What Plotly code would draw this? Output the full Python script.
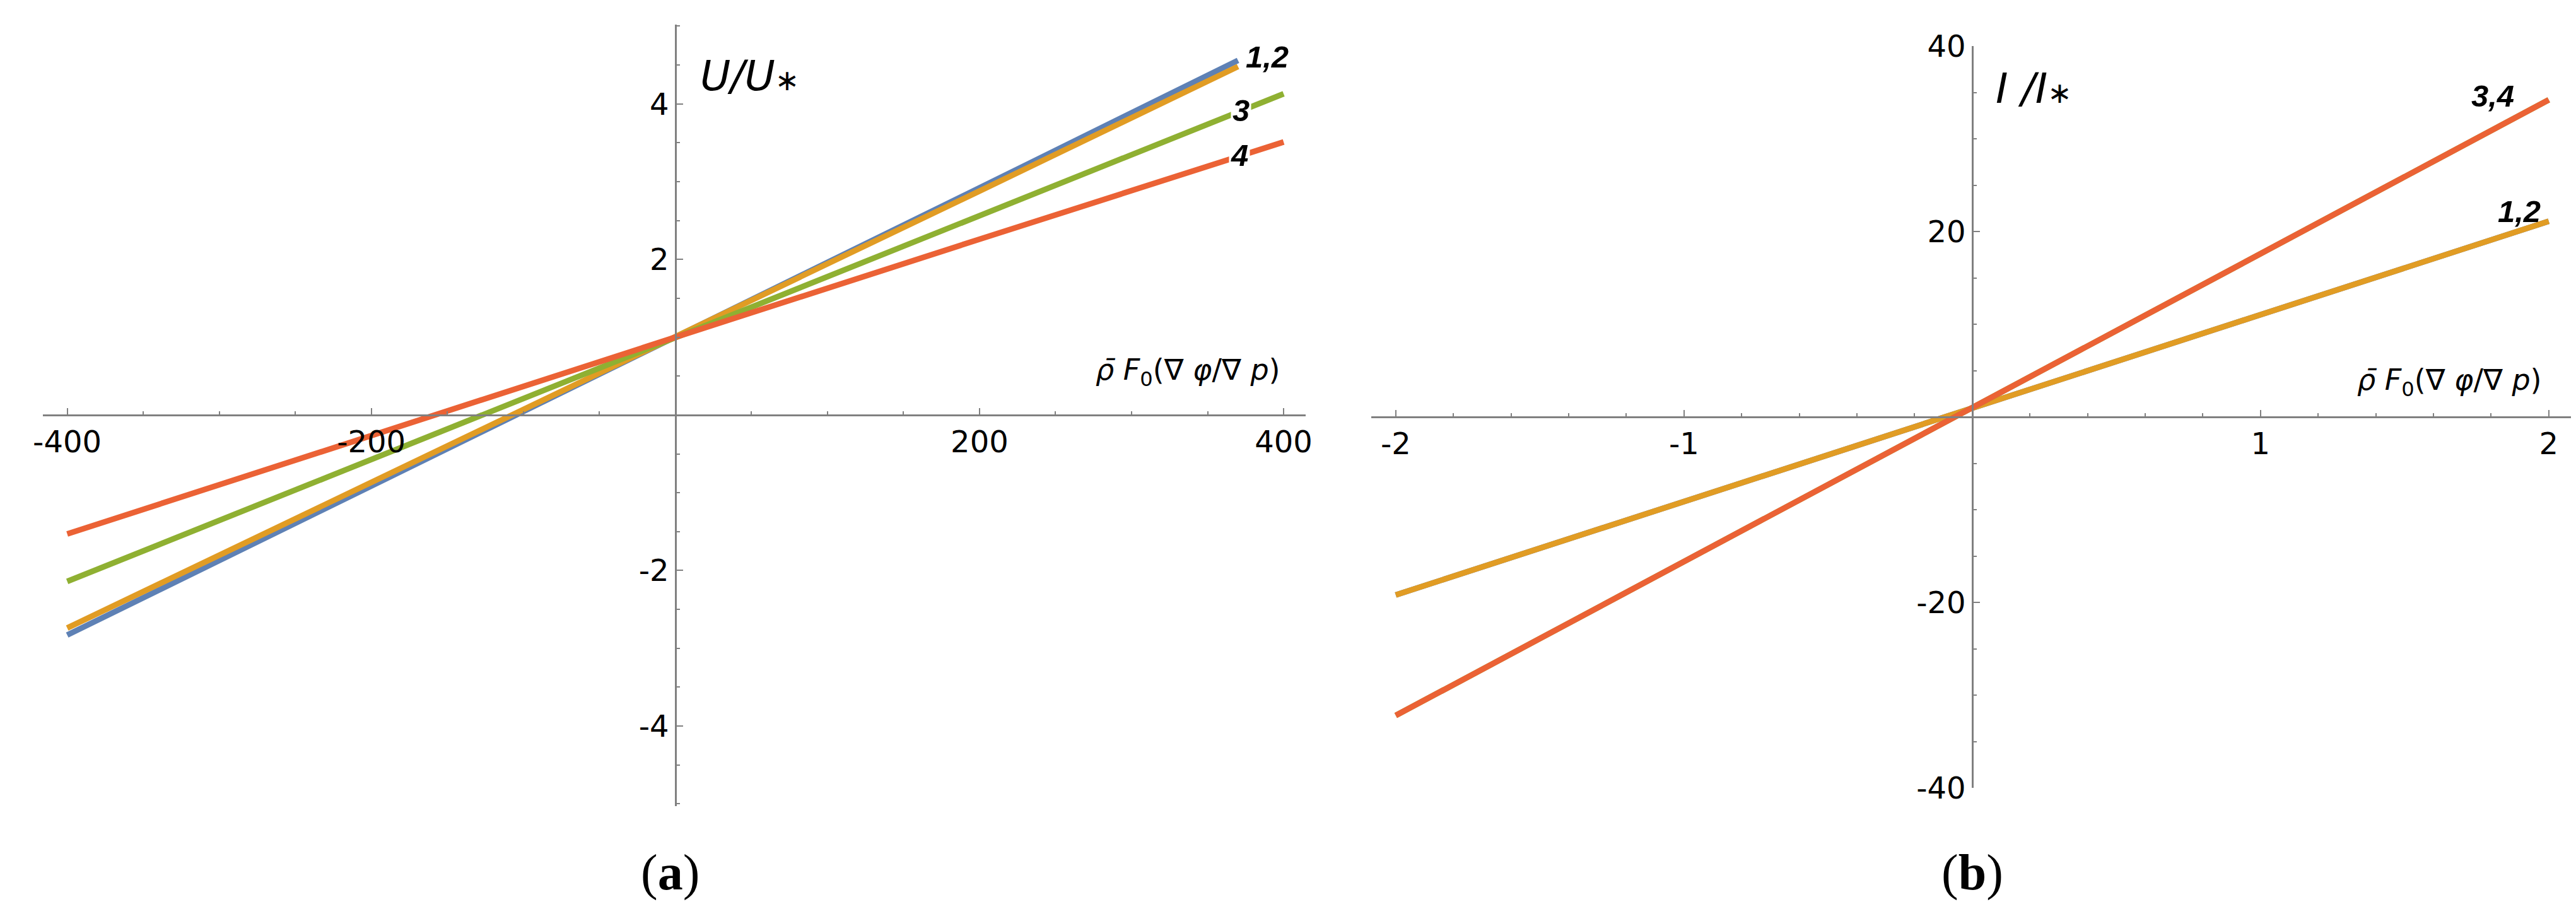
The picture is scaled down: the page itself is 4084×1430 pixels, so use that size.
import plotly.graph_objects as go

W, H = 4084, 1430

# ---------------- data ----------------
# panel (a): U/U* versus rho F0 (grad phi / grad p)
xa_12 = [-400, -200, 0, 200, 370]
ua_1 = [-2.83, -0.92, 1.0, 2.92, 4.56]
ua_2 = [-2.74, -0.87, 1.0, 2.88, 4.48]
xa_34 = [-400, -200, 0, 200, 400]
ua_3 = [-2.14, -0.57, 1.0, 2.57, 4.13]
ua_4 = [-1.53, -0.26, 1.0, 2.26, 3.51]

# panel (b): I/I* versus rho F0 (grad phi / grad p)
xb = [-2, -1, 0, 1, 2]
ib_12 = [-19.2, -9.1, 1.0, 11.1, 21.1]
ib_34 = [-32.2, -15.6, 1.0, 17.6, 34.2]

xa_ticks = [-400, -200, 200, 400]
xa_ticktext = ["-400", "-200", "200", "400"]
ya_ticks = [-4, -2, 2, 4]
ya_ticktext = ["-4", "-2", "2", "4"]
xb_ticks = [-2, -1, 1, 2]
xb_ticktext = ["-2", "-1", "1", "2"]
yb_ticks = [-40, -20, 20, 40]
yb_ticktext = ["-40", "-20", "20", "40"]

BLUE, ORANGE, GREEN, RED = "#5E81B5", "#E19C24", "#8FB032", "#EB6235"
LW = 9
AXC = "#808080"
TICKFONT = dict(family="DejaVu Sans", size=48, color="black")

fig = go.Figure()

def add(x, y, color, xa, ya):
    fig.add_trace(go.Scatter(x=x, y=y, mode="lines", line=dict(color=color, width=LW),
                             xaxis=xa, yaxis=ya, showlegend=False, hoverinfo="skip"))

add(xa_12, ua_1, BLUE, "x", "y")
add(xa_12, ua_2, ORANGE, "x", "y")
add(xa_34, ua_3, GREEN, "x", "y")
add(xa_34, ua_4, RED, "x", "y")

add(xb, ib_12, BLUE, "x2", "y2")
add(xb, ib_12, ORANGE, "x2", "y2")
add(xb, ib_34, GREEN, "x2", "y2")
add(xb, ib_34, RED, "x2", "y2")

def px(v):
    return v / W

def py(v):
    return 1 - v / H

common = dict(showgrid=False, zeroline=False, showline=True, linecolor=AXC, linewidth=2.5,
              ticks="inside", ticklen=10, tickwidth=2, tickcolor=AXC, tickfont=TICKFONT,
              tickmode="array", anchor="free", automargin=False)

fig.update_layout(
    template="none",
    width=W, height=H, autosize=False,
    margin=dict(l=0, r=0, t=0, b=0, pad=0, autoexpand=False),
    paper_bgcolor="white", plot_bgcolor="white",
    xaxis=dict(domain=[px(60), px(2062)], range=[-416, 414.5], position=py(650), side="bottom",
               tickvals=xa_ticks, ticktext=xa_ticktext,
               minor=dict(tickmode="linear", tick0=0, dtick=50, ticks="inside", ticklen=5,
                          tickwidth=2, tickcolor=AXC),
               **common),
    yaxis=dict(domain=[py(1270), py(31)], range=[-5.03, 5.02], position=px(1063), side="left",
               tickvals=ya_ticks, ticktext=ya_ticktext,
               minor=dict(tickmode="linear", tick0=0, dtick=0.5, ticks="inside", ticklen=5,
                          tickwidth=2, tickcolor=AXC),
               **common),
    xaxis2=dict(domain=[px(2166), px(4068)], range=[-2.085, 2.077], position=py(653), side="bottom",
                tickvals=xb_ticks, ticktext=xb_ticktext,
                minor=dict(tickmode="linear", tick0=0, dtick=0.2, ticks="inside", ticklen=5,
                           tickwidth=2, tickcolor=AXC),
                **common),
    yaxis2=dict(domain=[py(1241), py(65)], range=[-40, 40], position=px(3119), side="left",
                tickvals=yb_ticks, ticktext=yb_ticktext,
                minor=dict(tickmode="linear", tick0=0, dtick=5, ticks="inside", ticklen=5,
                           tickwidth=2, tickcolor=AXC),
                **common),
)

ann = []
LBLFONT = dict(family="Liberation Sans", size=49, color="black")
# curve labels, panel (a)
ann.append(dict(x=389, y=4.61, xref="x", yref="y", text="<b><i>1,2</i></b>", showarrow=False,
                font=LBLFONT, bgcolor="white", borderpad=2))
ann.append(dict(x=372, y=3.92, xref="x", yref="y", text="<b><i>3</i></b>", showarrow=False,
                font=LBLFONT, bgcolor="white", borderpad=2))
ann.append(dict(x=371, y=3.34, xref="x", yref="y", text="<b><i>4</i></b>", showarrow=False,
                font=LBLFONT, bgcolor="white", borderpad=2))
# curve labels, panel (b)
ann.append(dict(x=1.805, y=34.6, xref="x2", yref="y2", text="<b><i>3,4</i></b>", showarrow=False,
                font=LBLFONT))
ann.append(dict(x=1.897, y=22.2, xref="x2", yref="y2", text="<b><i>1,2</i></b>", showarrow=False,
                font=LBLFONT))

# axis labels
AXLBL = dict(family="DejaVu Sans", size=66, color="black")
STAR = "<span style='font-size:46px'>∗</span>"
ann.append(dict(x=px(1100), y=py(72), xref="paper", yref="paper", xanchor="left", yanchor="top",
                text="<i>U/U</i>" + STAR, showarrow=False, font=AXLBL))
ann.append(dict(x=px(3154), y=py(92), xref="paper", yref="paper", xanchor="left", yanchor="top",
                text="<i>I /I</i>" + STAR, showarrow=False, font=AXLBL))
XLBL = dict(family="DejaVu Sans", size=46, color="black")
xl_text = "<i>ρ̄ F</i><sub>0</sub>(∇ <i>φ</i>/∇ <i>p</i>)"
ann.append(dict(x=px(2024), y=py(614), xref="paper", yref="paper", xanchor="right", yanchor="bottom",
                text=xl_text, showarrow=False, font=XLBL))
ann.append(dict(x=px(4024), y=py(630), xref="paper", yref="paper", xanchor="right", yanchor="bottom",
                text=xl_text, showarrow=False, font=XLBL))

# panel captions
CAP = dict(family="Liberation Serif", size=80, color="black")
ann.append(dict(x=px(1054), y=py(1375), xref="paper", yref="paper", xanchor="center", yanchor="middle",
                text="(<b>a</b>)", showarrow=False, font=CAP))
ann.append(dict(x=px(3119), y=py(1375), xref="paper", yref="paper", xanchor="center", yanchor="middle",
                text="(<b>b</b>)", showarrow=False, font=CAP))

fig.update_layout(annotations=ann)
fig.write_html("out.html")
